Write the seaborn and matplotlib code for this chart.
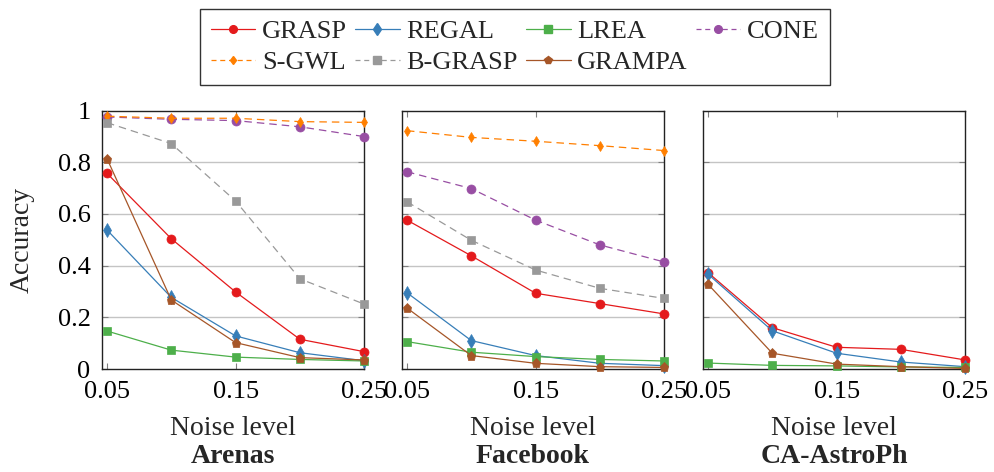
import matplotlib
matplotlib.use("Agg")
import matplotlib.pyplot as plt
import seaborn as sns
import pandas as pd
from matplotlib.lines import Line2D

sns.set_theme(style="white")
plt.rcParams['font.family'] = ['Liberation Serif', 'DejaVu Serif']
plt.rcParams['mathtext.fontset'] = 'stix'

noise = [0.05, 0.10, 0.15, 0.20, 0.25]
datasets = ["Arenas", "Facebook", "CA-AstroPh"]
methods = ["GRASP", "REGAL", "LREA", "CONE", "S-GWL", "B-GRASP", "GRAMPA"]

arenas_grasp = [0.757, 0.504, 0.298, 0.115, 0.067]
arenas_regal = [0.538, 0.277, 0.128, 0.063, 0.032]
arenas_lrea = [0.147, 0.073, 0.046, 0.037, 0.031]
arenas_cone = [0.975, 0.966, 0.961, 0.937, 0.899]
arenas_sgwl = [0.978, 0.970, 0.970, 0.957, 0.954]
arenas_bgrasp = [0.953, 0.872, 0.650, 0.349, 0.251]
arenas_grampa = [0.814, 0.267, 0.102, 0.044, 0.035]

facebook_grasp = [0.576, 0.438, 0.293, 0.253, 0.213]
facebook_regal = [0.295, 0.110, 0.052, 0.022, 0.013]
facebook_lrea = [0.106, 0.065, 0.048, 0.037, 0.031]
facebook_cone = [0.763, 0.698, 0.576, 0.480, 0.414]
facebook_sgwl = [0.922, 0.896, 0.881, 0.864, 0.845]
facebook_bgrasp = [0.647, 0.498, 0.383, 0.312, 0.273]
facebook_grampa = [0.236, 0.052, 0.022, 0.009, 0.006]

astro_grasp = [0.373, 0.160, 0.084, 0.076, 0.035]
astro_regal = [0.367, 0.148, 0.061, 0.027, 0.009]
astro_lrea = [0.023, 0.014, 0.012, 0.008, 0.006]
astro_grampa = [0.328, 0.061, 0.019, 0.009, 0.002]

series = {
    "Arenas": {"GRASP": arenas_grasp, "REGAL": arenas_regal, "LREA": arenas_lrea,
               "CONE": arenas_cone, "S-GWL": arenas_sgwl, "B-GRASP": arenas_bgrasp,
               "GRAMPA": arenas_grampa},
    "Facebook": {"GRASP": facebook_grasp, "REGAL": facebook_regal, "LREA": facebook_lrea,
                 "CONE": facebook_cone, "S-GWL": facebook_sgwl, "B-GRASP": facebook_bgrasp,
                 "GRAMPA": facebook_grampa},
    "CA-AstroPh": {"GRASP": astro_grasp, "REGAL": astro_regal, "LREA": astro_lrea,
                   "GRAMPA": astro_grampa},
}

colors = {"GRASP": "#e41a1c", "REGAL": "#377eb8", "LREA": "#4daf4a", "CONE": "#984ea3",
          "S-GWL": "#ff7f00", "B-GRASP": "#999999", "GRAMPA": "#a65628"}
markers = {"GRASP": "o", "REGAL": "d", "LREA": "s", "CONE": "o",
           "S-GWL": "d", "B-GRASP": "s", "GRAMPA": "p"}
msizes = {"GRASP": 6.5, "REGAL": 7, "LREA": 6, "CONE": 6.5,
          "S-GWL": 5, "B-GRASP": 6, "GRAMPA": 6.5}
dashed = {"CONE", "S-GWL", "B-GRASP"}

W, H = 995, 472
fig = plt.figure(figsize=(W / 100, H / 100), dpi=100)

lefts = [101.7, 401.7, 702.7]
aw = 262.5
ab, at = 369, 110.5
fs_tick = 19
fs_lab = 20

for i, (ds, left) in enumerate(zip(datasets, lefts)):
    ax = fig.add_axes([left / W, 1 - ab / H, aw / W, (ab - at) / H])
    for y in [0.2, 0.4, 0.6, 0.8]:
        ax.axhline(y, color="#c4c4c4", lw=1.0, zorder=0)
    for m in methods:
        if m not in series[ds]:
            continue
        df = pd.DataFrame({"x": noise, "y": series[ds][m]})
        sns.lineplot(data=df, x="x", y="y", ax=ax, color=colors[m],
                     marker=markers[m], markersize=msizes[m],
                     markeredgecolor=colors[m], markeredgewidth=0.5,
                     linestyle=(0, (6, 4)) if m in dashed else "-",
                     lw=0.9, clip_on=False, legend=False, zorder=3)
    ax.set_xlim(0.0459, 0.25)
    ax.set_ylim(0, 1)
    ax.set_xticks([0.05, 0.15, 0.25])
    ax.set_xticklabels(["0.05", "0.15", "0.25"], fontsize=fs_tick)
    ax.set_yticks([0, 0.2, 0.4, 0.6, 0.8, 1])
    if i == 0:
        ax.set_yticklabels(["0", "0.2", "0.4", "0.6", "0.8", "1"], fontsize=fs_tick)
    else:
        ax.set_yticklabels([])
    ax.tick_params(direction="in", length=4, width=0.8, color="#808080",
                   top=True, right=True, bottom=True, left=True, pad=9,
                   labelcolor="black")
    ax.tick_params(axis="y", pad=8)
    for s in ax.spines.values():
        s.set_color("#222222")
        s.set_linewidth(1.0)
    ax.set_xlabel("")
    ax.set_ylabel("")
    ax.text(0.5, -0.232, "Noise level", transform=ax.transAxes, ha="center",
            va="center", fontsize=fs_lab)
    ax.text(0.5, -0.337, ds, transform=ax.transAxes, ha="center",
            va="center", fontsize=fs_lab, fontweight="bold")

fig.text(22 / W, 1 - 240 / H, "Accuracy", rotation=90, ha="center", va="center",
         fontsize=fs_lab)

# legend: row-major order in the reference -> column-major order for matplotlib
leg_order = ["GRASP", "S-GWL", "REGAL", "B-GRASP", "LREA", "GRAMPA", "CONE"]
handles = []
for m in leg_order:
    handles.append(Line2D([], [], color=colors[m], marker=markers[m],
                          markersize=msizes[m] * 0.85, lw=0.9,
                          linestyle=(0, (4, 3)) if m in dashed else "-"))
leg = fig.legend(handles, leg_order, ncol=4, loc="upper left",
                 bbox_to_anchor=(200 / W, 1 - 9 / H), fontsize=19,
                 frameon=True, fancybox=False, edgecolor="black",
                 handlelength=1.7, handletextpad=0.25, columnspacing=0.3,
                 borderpad=0.4, labelspacing=0.3, borderaxespad=0)
leg.get_frame().set_linewidth(1.0)

fig.savefig("out.png", dpi=100)
